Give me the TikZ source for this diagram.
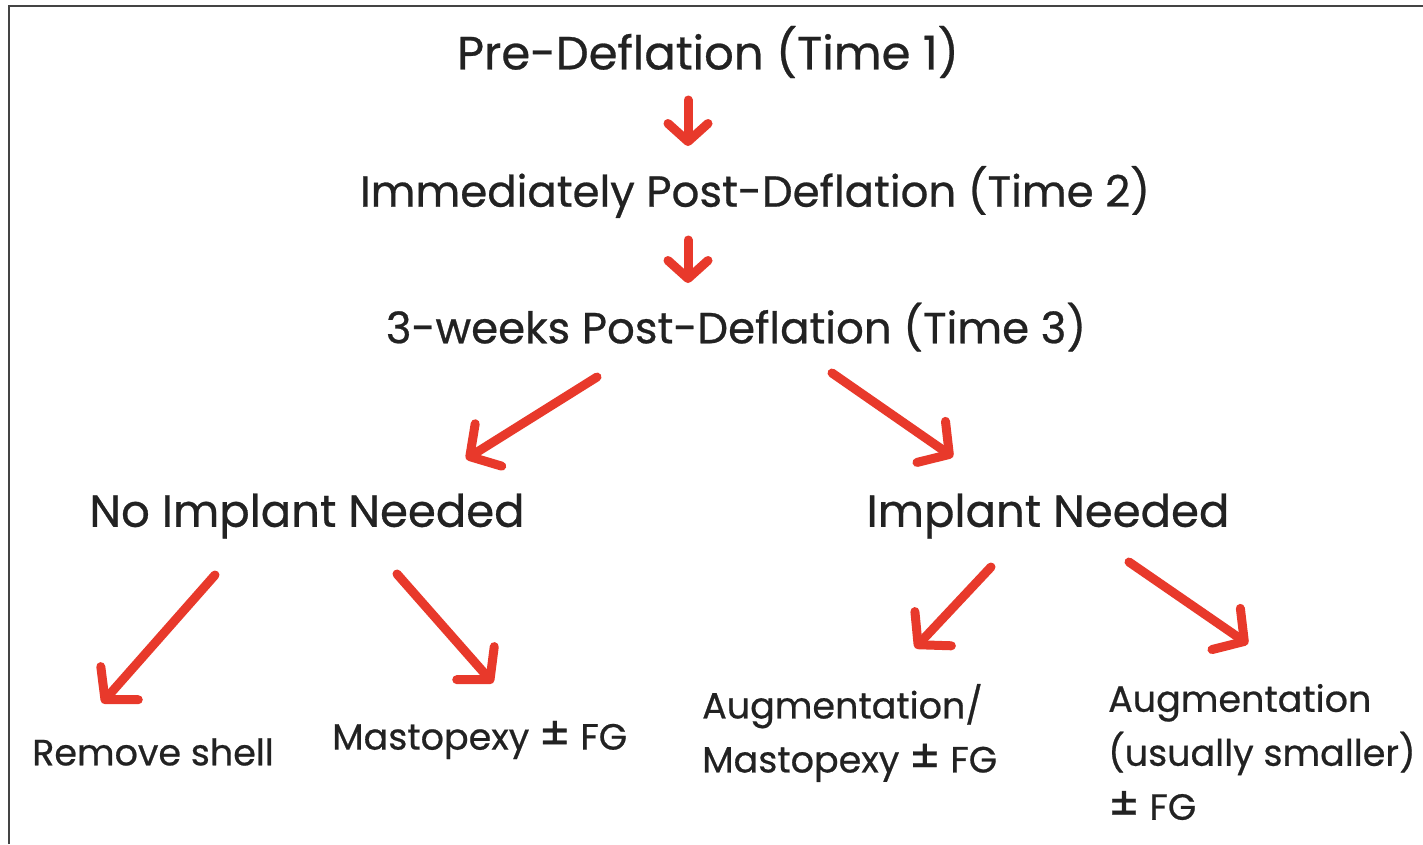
\documentclass[tikz,border=0pt]{standalone}
\usepackage{fontspec}
\setmainfont{Poppins}[FakeBold=0.6]
\usetikzlibrary{arrows.meta}
\definecolor{arrowred}{HTML}{E8392B}
\definecolor{txt}{HTML}{222222}
\definecolor{frame}{HTML}{444444}
\newcommand{\bigpm}{{\fontsize{46}{54}\selectfont ±}}
\tikzset{
  big/.style={text=txt, inner sep=0pt, font=\fontsize{45}{50}\selectfont},
  small/.style={text=txt, inner sep=0pt, font=\fontsize{36.5}{54}\selectfont, align=left},
  redarrow/.style={draw=arrowred, line width=9pt, line cap=round,
    -{Straight Barb[length=22pt,width=50pt,line cap=round,line join=round]}},
  shortarrow/.style={draw=arrowred, line width=9pt, line cap=round,
    -{Straight Barb[length=18pt,width=40pt,line cap=round,line join=round]}}
}
\begin{document}
\begin{tikzpicture}[x=1pt,y=-1pt]
\useasboundingbox (0,0) rectangle (1423,844);
\fill[white] (0,0) rectangle (1423,844);
\draw[frame, line width=2.5pt] (9,844) -- (9,6) -- (1423,6);

\node[big, font=\fontsize{46.5}{50}\selectfont] (t1) at (708,52) {Pre-Deflation (Time 1)};
\node[big, font=\fontsize{43.5}{50}\selectfont] (t2) at (755,192) {Immediately Post-Deflation (Time 2)};
\node[big, font=\fontsize{43.5}{50}\selectfont] (t3) at (736,327) {3-weeks Post-Deflation (Time 3)};
\node[big] (no) at (307,516) {No Implant Needed};
\node[big] (yes) at (1048,516) {Implant Needed};
\node[small, anchor=west] (rs) at (32,752) {Remove shell};
\node[small, anchor=west] (mf) at (332,740) {Mastopexy \bigpm\ FG};
\node[small, anchor=west] (am) at (702,733) {Augmentation/\\Mastopexy \bigpm\ FG};
\node[small, anchor=west] (au) at (1108,752) {Augmentation\\(usually smaller)\\\bigpm\ FG};

\coordinate (a1s) at (688,100); \coordinate (a1e) at (688,146);
\coordinate (a2s) at (688,240); \coordinate (a2e) at (688,283);
\coordinate (a3s) at (597,377); \coordinate (a3e) at (466,459);
\coordinate (a4s) at (832,373); \coordinate (a4e) at (953,457);
\coordinate (a5s) at (215,575); \coordinate (a5e) at (102,703);
\coordinate (a6s) at (397,574); \coordinate (a6e) at (493,683);
\coordinate (a7s) at (991,567); \coordinate (a7e) at (915,648);
\coordinate (a8s) at (1129,562); \coordinate (a8e) at (1248,644);

\draw[shortarrow] (a1s) -- (a1e);
\draw[shortarrow] (a2s) -- (a2e);
\draw[redarrow] (a3s) -- (a3e);
\draw[redarrow] (a4s) -- (a4e);
\draw[redarrow] (a5s) -- (a5e);
\draw[redarrow] (a6s) -- (a6e);
\draw[redarrow] (a7s) -- (a7e);
\draw[redarrow] (a8s) -- (a8e);
\end{tikzpicture}
\end{document}
